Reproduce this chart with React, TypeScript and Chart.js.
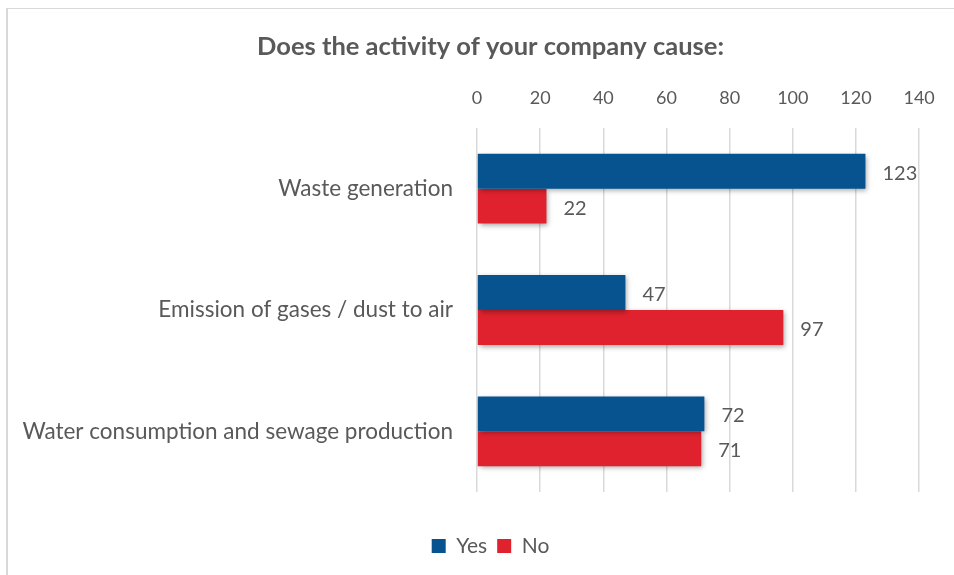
import React, { useEffect, useRef } from "react";
import { Chart, registerables } from "chart.js";

Chart.register(...registerables);

const categories = [
  "Waste generation",
  "Emission of gases / dust to air",
  "Water consumption and sewage production",
];
const yesValues = [123, 47, 72];
const noValues = [22, 97, 71];
const seriesNames = ["Yes", "No"];
const xMin = 0;
const xMax = 140;
const xStep = 20;

const TEXT = "#595959";
const FONT = "Lato, 'Open Sans', sans-serif";

const shadowPlugin = {
  id: "barShadow",
  beforeDatasetsDraw(chart: any) {
    const ctx = chart.ctx;
    ctx.save();
    ctx.shadowColor = "rgba(0,0,0,0.35)";
    ctx.shadowBlur = 5;
    ctx.shadowOffsetX = 2;
    ctx.shadowOffsetY = 2;
  },
  afterDatasetsDraw(chart: any) {
    chart.ctx.restore();
  },
};

// let the category labels use the space of the left layout padding
const labelAreaPlugin = {
  id: "labelArea",
  afterLayout(chart: any) {
    if (chart.scales.y) chart.scales.y.left = 0;
  },
};

const valueLabelPlugin = {
  id: "valueLabels",
  afterDraw(chart: any) {
    const ctx = chart.ctx;
    ctx.save();
    ctx.font = `20px ${FONT}`;
    ctx.fillStyle = TEXT;
    ctx.textAlign = "left";
    ctx.textBaseline = "middle";
    chart.data.datasets.forEach((ds: any, di: number) => {
      const meta = chart.getDatasetMeta(di);
      meta.data.forEach((bar: any, i: number) => {
        ctx.fillText(String(ds.data[i]), bar.x + 17, bar.y + 2);
      });
    });
    ctx.restore();
  },
};

export default function App() {
  const ref = useRef<HTMLCanvasElement | null>(null);

  useEffect(() => {
    if (!ref.current) return;
    const padLeft = 60;
    const titleSize = 25.5;
    const titlePadTop = 31.7;
    const titleH = titlePadTop + titleSize * 1.2;
    const chart = new Chart(ref.current, {
      type: "bar",
      data: {
        labels: categories,
        datasets: [
          {
            label: seriesNames[0],
            data: yesValues,
            backgroundColor: "#06538F",
            borderWidth: 0,
            categoryPercentage: 0.575,
            barPercentage: 1,
          },
          {
            label: seriesNames[1],
            data: noValues,
            backgroundColor: "#E0222E",
            borderWidth: 0,
            categoryPercentage: 0.575,
            barPercentage: 1,
          },
        ],
      },
      options: {
        indexAxis: "y",
        responsive: false,
        animation: false,
        devicePixelRatio: 1,
        layout: { padding: { left: padLeft, right: 33, top: 0, bottom: 8.5 } },
        scales: {
          x: {
            position: "top",
            min: xMin,
            max: xMax,
            ticks: {
              stepSize: xStep,
              color: TEXT,
              font: { family: FONT, size: 18 },
              padding: 19.2,
            },
            grid: { color: "#d9d9d9", lineWidth: 1.5, drawTicks: false },
            border: { display: false },
            afterFit(scale: any) {
              scale.height = 128 - titleH;
            },
          },
          xb: {
            type: "linear",
            axis: "x",
            position: "bottom",
            display: true,
            ticks: { display: false },
            grid: { display: false },
            border: { display: false },
            afterFit(scale: any) {
              scale.height = 33.5;
            },
          },
          y: {
            ticks: {
              color: TEXT,
              font: { family: FONT, size: 22.5 },
              padding: 16,
            },
            grid: { display: false },
            border: { display: false },
            afterFit(scale: any) {
              scale.width = 477 - padLeft;
            },
          },
        },
        plugins: {
          title: {
            display: true,
            text: "Does the activity of your company cause:",
            color: TEXT,
            font: { family: FONT, size: titleSize, weight: "bold", lineHeight: 1.2 },
            padding: { top: titlePadTop, bottom: 0 },
          },
          legend: {
            position: "bottom",
            labels: {
              color: TEXT,
              font: { family: FONT, size: 21 },
              boxWidth: 14,
              boxHeight: 14,
              padding: 10,
            },
          },
          tooltip: { enabled: false },
        },
      } as any,
      plugins: [labelAreaPlugin, shadowPlugin, valueLabelPlugin],
    });
    return () => chart.destroy();
  }, []);

  return (
    <div style={{ position: "absolute", left: 0, top: 0, width: 954, height: 575, overflow: "hidden" }}>
      <div
        style={{
          position: "absolute",
          left: 6,
          top: 8,
          width: 946,
          height: 567,
          borderLeft: "2px solid #d9d9d9",
          borderTop: "1px solid #d9d9d9",
        }}
      />
      <canvas
        ref={ref}
        width={954}
        height={575}
        style={{ position: "absolute", left: 0, top: 0, display: "block" }}
      />
    </div>
  );
}
